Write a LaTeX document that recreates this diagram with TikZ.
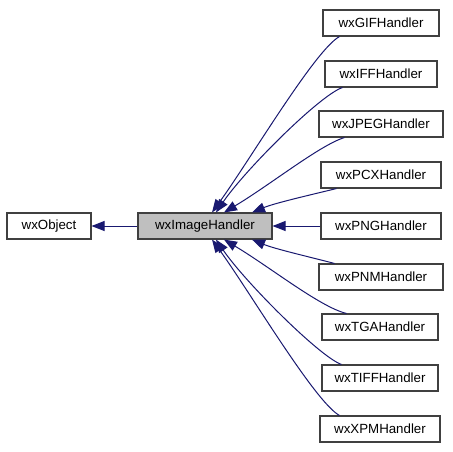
\documentclass[tikz,border=0pt]{standalone}
\usepackage{fontspec}
\setmainfont{Liberation Sans}
\usetikzlibrary{arrows.meta,calc}
\definecolor{edgecol}{HTML}{191970}
\definecolor{boxline}{HTML}{404040}
\definecolor{hifill}{HTML}{BFBFBF}
\begin{document}
\begin{tikzpicture}[x=1pt,y=-1pt,
  cls/.style={draw=boxline,line width=1.1pt,fill=white,minimum height=26pt,inner sep=0pt,
    font=\fontsize{13.3}{15}\selectfont,text=black},
  edge/.style={draw=edgecol,line width=1pt,-{Triangle[length=13pt,width=10pt]}}]
\useasboundingbox (0,0) rectangle (453,451);
\fill[white] (0,0) rectangle (453,451);
\node[cls,minimum width=84pt] (obj) at (49,226) {wxObject};
\node[cls,minimum width=134pt,fill=hifill] (ih) at (205,226) {wxImageHandler};
\node[cls,minimum width=116pt] (gif) at (381,23) {wxGIFHandler};
\node[cls,minimum width=112pt] (iff) at (381,74) {wxIFFHandler};
\node[cls,minimum width=124pt] (jpeg) at (381,124) {wxJPEGHandler};
\node[cls,minimum width=120pt] (pcx) at (381,175) {wxPCXHandler};
\node[cls,minimum width=120pt] (png) at (381,226) {wxPNGHandler};
\node[cls,minimum width=124pt] (pnm) at (381,277) {wxPNMHandler};
\node[cls,minimum width=116pt] (tga) at (380,327) {wxTGAHandler};
\node[cls,minimum width=116pt] (tiff) at (380,378) {wxTIFFHandler};
\node[cls,minimum width=120pt] (xpm) at (380,429) {wxXPMHandler};
\draw[edge] (ih) -- (obj);
\draw[edge] (png) -- (ih);
\draw[edge] ($(gif.south west)+(17,0)$) .. controls (315,50) and (250,160) .. ($(ih.north)+(7,0)$);
\draw[edge] ($(iff.south west)+(18,0)$) .. controls (320,95) and (245,170) .. ($(ih.north)+(11,0)$);
\draw[edge] ($(jpeg.south west)+(26,0)$) .. controls (320,145) and (270,185) .. ($(ih.north)+(19,0)$);
\draw[edge] ($(pcx.south west)+(16,0)$) .. controls (310,195) and (275,203) .. ($(ih.north)+(47,0)$);
\draw[edge] ($(pnm.north west)+(16,0)$) .. controls (310,257) and (275,249) .. ($(ih.south)+(47,0)$);
\draw[edge] ($(tga.north west)+(25,0)$) .. controls (320,307) and (270,267) .. ($(ih.south)+(19,0)$);
\draw[edge] ($(tiff.north west)+(20,0)$) .. controls (320,357) and (245,282) .. ($(ih.south)+(11,0)$);
\draw[edge] ($(xpm.north west)+(20,0)$) .. controls (315,402) and (250,292) .. ($(ih.south)+(7,0)$);
\end{tikzpicture}
\end{document}
